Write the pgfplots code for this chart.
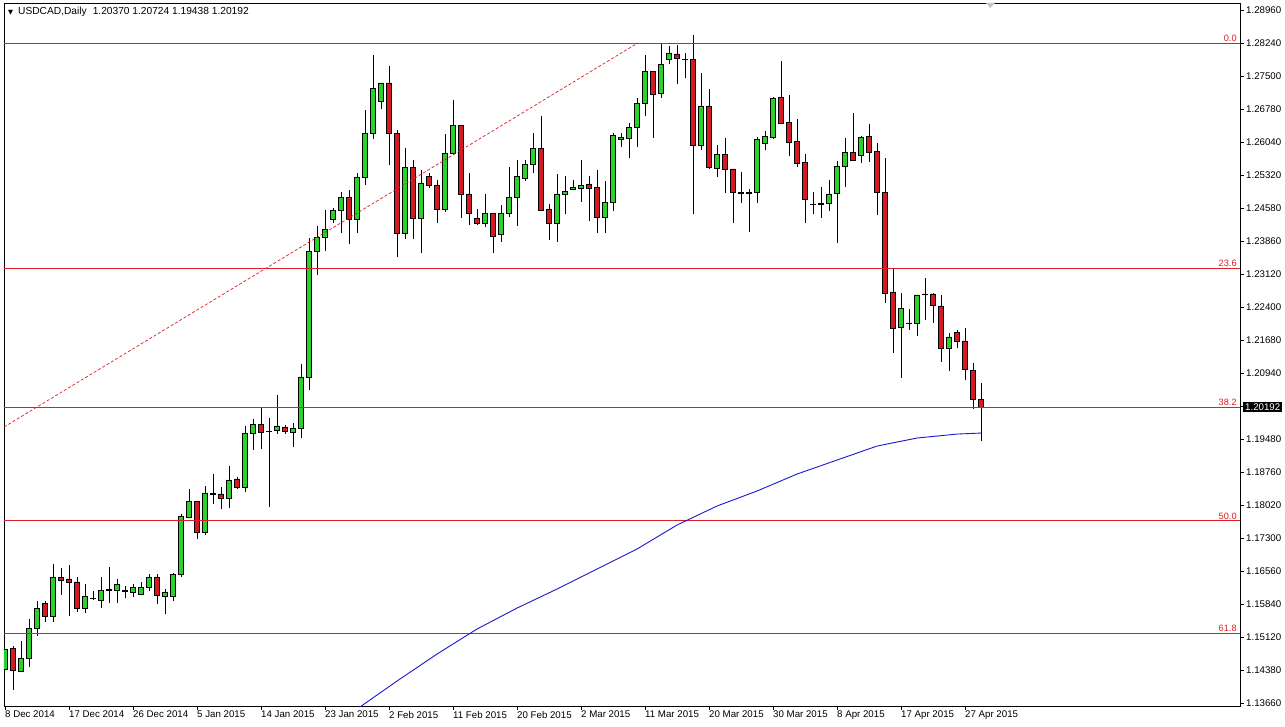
\documentclass[border=0pt]{standalone}
\usepackage{pgfplots}
\pgfplotsset{compat=1.18}
\usepackage{pgfplotstable}
\usepackage{fontspec}
\setmainfont{Liberation Sans}
\newfontfamily\symfont{DejaVu Sans}

\definecolor{bull}{RGB}{40,210,40}
\definecolor{bear}{RGB}{215,25,35}
\definecolor{fibred}{RGB}{220,30,40}
\definecolor{maline}{RGB}{25,25,205}

% USDCAD daily candles, 8 Dec 2014 - 29 Apr 2015
\pgfplotstableread{
i o h l c
0 1.14411 1.15007 1.14255 1.14852
1 1.14874 1.14918 1.13947 1.14389
2 1.14366 1.15029 1.14344 1.14653
3 1.14653 1.15515 1.14455 1.15316
4 1.15316 1.15912 1.15139 1.15757
5 1.15868 1.15912 1.15448 1.15581
6 1.15581 1.16729 1.15448 1.16442
7 1.16442 1.16641 1.16045 1.16376
8 1.16398 1.16707 1.15581 1.16332
9 1.16332 1.16442 1.15669 1.15757
10 1.15757 1.16287 1.15647 1.16023
11 1.15970 1.16133 1.15934 1.15978
12 1.15934 1.16442 1.15757 1.16155
13 1.16155 1.16663 1.15868 1.16160
14 1.16155 1.16398 1.15868 1.16287
15 1.16133 1.16243 1.15978 1.16140
16 1.16111 1.16287 1.16000 1.16221
17 1.16067 1.16332 1.16045 1.16221
18 1.16221 1.16508 1.16133 1.16442
19 1.16442 1.16508 1.15846 1.16045
20 1.16023 1.16177 1.15625 1.16111
21 1.16023 1.16530 1.15912 1.16508
22 1.16508 1.17833 1.16442 1.17789
23 1.17767 1.18385 1.17745 1.18120
24 1.18120 1.18120 1.17281 1.17436
25 1.17436 1.18451 1.17369 1.18297
26 1.18275 1.18716 1.18054 1.18280
27 1.18275 1.18429 1.17943 1.18186
28 1.18186 1.18893 1.17965 1.18584
29 1.18606 1.18650 1.18385 1.18429
30 1.18429 1.19776 1.18319 1.19621
31 1.19621 1.19931 1.19246 1.19820
32 1.19820 1.20173 1.19268 1.19643
33 1.19665 1.19953 1.17987 1.19660
34 1.19688 1.20461 1.19599 1.19776
35 1.19754 1.19798 1.19599 1.19665
36 1.19643 1.19842 1.19312 1.19732
37 1.19732 1.21145 1.19511 1.20858
38 1.20858 1.23926 1.20571 1.23639
39 1.23639 1.24191 1.23109 1.23948
40 1.23948 1.24544 1.23639 1.24125
41 1.24346 1.24588 1.24257 1.24544
42 1.24544 1.24942 1.24036 1.24831
43 1.24831 1.24986 1.23794 1.24346
44 1.24346 1.25361 1.24036 1.25273
45 1.25273 1.26752 1.25096 1.26244
46 1.26244 1.27967 1.26112 1.27238
47 1.26951 1.27349 1.26774 1.27349
48 1.27349 1.27724 1.25538 1.26244
49 1.26244 1.26311 1.23507 1.24036
50 1.24036 1.25913 1.23904 1.25494
51 1.25494 1.25648 1.23904 1.24368
52 1.24368 1.25428 1.23595 1.25141
53 1.25295 1.25361 1.25030 1.25096
54 1.25096 1.25207 1.24257 1.24566
55 1.24566 1.26222 1.24500 1.25803
56 1.25803 1.26973 1.25759 1.26421
57 1.26421 1.26421 1.24368 1.24898
58 1.24898 1.25361 1.24213 1.24478
59 1.24368 1.24566 1.24213 1.24257
60 1.24257 1.24898 1.24169 1.24478
61 1.24478 1.24478 1.23595 1.23970
62 1.24014 1.24655 1.23838 1.24478
63 1.24478 1.25494 1.24390 1.24831
64 1.24831 1.25648 1.24191 1.25295
65 1.25251 1.25648 1.25185 1.25560
66 1.25560 1.26244 1.25361 1.25913
67 1.25913 1.26620 1.24544 1.24544
68 1.24566 1.24677 1.23882 1.24257
69 1.24257 1.25339 1.23838 1.24898
70 1.24898 1.25295 1.24456 1.24964
71 1.25008 1.25207 1.24986 1.25052
72 1.25030 1.25648 1.24721 1.25096
73 1.25119 1.25295 1.24301 1.25030
74 1.25052 1.25428 1.24036 1.24390
75 1.24390 1.25185 1.24036 1.24721
76 1.24721 1.26244 1.24522 1.26200
77 1.26112 1.26244 1.25935 1.26156
78 1.26134 1.26465 1.25693 1.26377
79 1.26377 1.27017 1.25935 1.26907
80 1.26907 1.27967 1.26620 1.27613
81 1.27613 1.27613 1.26134 1.27106
82 1.27128 1.28232 1.27017 1.27768
83 1.27878 1.28165 1.27768 1.28011
84 1.27989 1.28187 1.27327 1.27900
85 1.27878 1.28011 1.27459 1.27870
86 1.27878 1.28408 1.24456 1.25979
87 1.25979 1.27569 1.25869 1.26841
88 1.26841 1.27216 1.25450 1.25494
89 1.25472 1.25979 1.25273 1.25781
90 1.25781 1.26134 1.24920 1.25450
91 1.25450 1.25450 1.24257 1.24942
92 1.24942 1.25384 1.24699 1.24920
93 1.24920 1.25008 1.24058 1.24942
94 1.24942 1.26156 1.24699 1.26112
95 1.26024 1.26289 1.25869 1.26178
96 1.26156 1.27039 1.26112 1.27017
97 1.27039 1.27834 1.26443 1.26465
98 1.26487 1.27084 1.25737 1.26046
99 1.26068 1.26554 1.25494 1.25582
100 1.25604 1.25781 1.24257 1.24787
101 1.24677 1.24942 1.24456 1.24670
102 1.24677 1.25052 1.24368 1.24685
103 1.24699 1.25207 1.24522 1.24898
104 1.24920 1.25626 1.23816 1.25516
105 1.25516 1.26134 1.25052 1.25825
106 1.25825 1.26686 1.25648 1.25648
107 1.25759 1.26178 1.25582 1.26156
108 1.26178 1.26443 1.25604 1.25825
109 1.25847 1.26024 1.24434 1.24942
110 1.24942 1.25693 1.22492 1.22713
111 1.22735 1.23264 1.21388 1.21940
112 1.21962 1.22713 1.20836 1.22381
113 1.22050 1.22359 1.21896 1.22045
114 1.22050 1.22669 1.21763 1.22669
115 1.22691 1.23043 1.22116 1.22685
116 1.22691 1.22713 1.22050 1.22448
117 1.22426 1.22669 1.21189 1.21498
118 1.21498 1.21829 1.20990 1.21741
119 1.21851 1.21896 1.21498 1.21653
120 1.21653 1.21940 1.20792 1.21034
121 1.21012 1.21167 1.20151 1.20372
122 1.20370 1.20724 1.19438 1.20192
}\candles

\pgfplotsset{
  chartbox/.style={
    at={(0pt,0pt)}, anchor=south west,
    scale only axis, width=1236pt, height=703pt,
    xmin=-0.125, xmax=154.375,
    ymin=1.13594, ymax=1.29115,
    enlargelimits=false,
  },
}
\tikzset{
  lbl/.style={font=\fontsize{9.7}{11}\selectfont},
  fiblbl/.style={anchor=south east, text=fibred, font=\fontsize{9.2}{10}\selectfont, inner sep=1pt},
}

\begin{document}
\begin{tikzpicture}
\useasboundingbox (-4pt,-20pt) rectangle (1281pt,706pt);

% frame, ticks and wicks
\begin{axis}[
    chartbox,
    axis line style={black, line width=0.8pt},
    tick align=outside,
    major tick length=4pt,
    tick style={black, line width=0.8pt},
    xtick pos=bottom,
    ytick pos=right,
    yticklabel pos=right,
    xtick={0,8,...,120},
    xticklabels={8 Dec 2014,17 Dec 2014,26 Dec 2014,5 Jan 2015,14 Jan 2015,23 Jan 2015,2 Feb 2015,11 Feb 2015,20 Feb 2015,2 Mar 2015,11 Mar 2015,20 Mar 2015,30 Mar 2015,8 Apr 2015,17 Apr 2015,27 Apr 2015},
    xticklabel style={lbl, anchor=north west, xshift=-1pt, inner sep=1pt},
    ytick={1.28960,1.28231,1.27503,1.26774,1.26046,1.25317,1.24589,1.23860,1.23131,1.22403,1.21674,1.20946,1.20217,1.19489,1.18760,1.18031,1.17303,1.16574,1.15846,1.15117,1.14389,1.13660},
    yticklabels={1.28960,1.28240,1.27500,1.26780,1.26040,1.25320,1.24580,1.23860,1.23120,1.22400,1.21680,1.20940,{},1.19480,1.18760,1.18020,1.17300,1.16560,1.15840,1.15120,1.14380,1.13660},
    yticklabel style={lbl, anchor=west, inner sep=1pt, xshift=1pt},
]
\addplot[draw=none, mark=none, forget plot,
    error bars/.cd, y dir=plus, y explicit, error mark=none,
    error bar style={draw=black, line width=1pt}]
    table[x=i, y=l, y error expr={\thisrow{h}-\thisrow{l}}] {\candles};
\end{axis}

% candle bodies
\begin{axis}[chartbox, hide axis, ybar stacked, bar width=5pt]
\addplot[draw=none, fill=none] table[x=i, y expr={min(\thisrow{o},\thisrow{c})}] {\candles};
\addplot[draw=black, fill=bull, line width=0.8pt] table[x=i, y expr={max(\thisrow{c}-\thisrow{o},0)}] {\candles};
\addplot[draw=black, fill=bear, line width=0.8pt] table[x=i, y expr={max(\thisrow{o}-\thisrow{c},0)}] {\candles};
\end{axis}

% fibonacci levels, trend line, moving average, labels
\begin{axis}[chartbox, hide axis, clip mode=individual]
\addplot[fibred, line width=0.9pt] coordinates {(-0.125,1.28232)(154.375,1.28232)};
\addplot[fibred, line width=0.9pt] coordinates {(-0.125,1.23264)(154.375,1.23264)};
\addplot[fibred, line width=0.9pt] coordinates {(-0.125,1.20195)(154.375,1.20195)};
\addplot[fibred, line width=0.9pt] coordinates {(-0.125,1.17690)(154.375,1.17690)};
\addplot[fibred, line width=0.9pt] coordinates {(-0.125,1.15200)(154.375,1.15200)};
\addplot[fibred, line width=0.7pt, dash pattern=on 3pt off 2pt] coordinates {(-0.125,1.19754)(79.1,1.28232)};
\addplot[maline, line width=0.9pt] coordinates {
    (44,1.13526)(49,1.14145)(54,1.14741)(59,1.15293)(64,1.15756)(69,1.16176)
    (74,1.16617)(79,1.17059)(84,1.17589)(89,1.18009)(94,1.18340)(99,1.18715)
    (104,1.19024)(109,1.19333)(114,1.19510)(119,1.19598)(122,1.19620)};

\node[fiblbl] at (axis cs:154.1,1.28232) {0.0};
\node[fiblbl] at (axis cs:154.1,1.23264) {23.6};
\node[fiblbl] at (axis cs:154.1,1.20195) {38.2};
\node[fiblbl] at (axis cs:154.1,1.17690) {50.0};
\node[fiblbl] at (axis cs:154.1,1.15200) {61.8};
\node[anchor=west, fill=black, text=white, inner xsep=2pt, inner ysep=1.5pt, lbl]
    at (axis cs:154.375,1.20192) [xshift=3pt] {1.20192};
\node[anchor=west, inner sep=0pt, font=\fontsize{10.2}{12}\selectfont] at (rel axis cs:0,1) [xshift=4pt, yshift=-9pt]
    {{\symfont\fontsize{6.5}{7}\selectfont ▼}\hspace{5pt}USDCAD,Daily\hspace{6pt}1.20370 1.20724 1.19438 1.20192};
\fill[gray!45] (axis cs:122.6,1.29115) -- ++(9pt,0pt) -- ++(-4.5pt,-5pt) -- cycle;
\end{axis}
\end{tikzpicture}
\end{document}
